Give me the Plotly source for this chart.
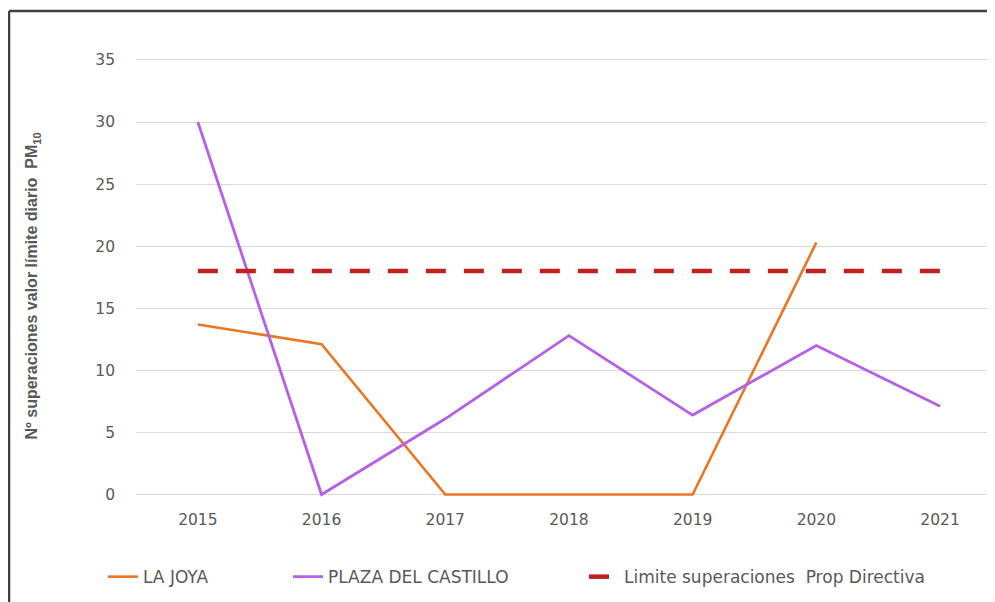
import plotly.graph_objects as go

years = [2015, 2016, 2017, 2018, 2019, 2020, 2021]
la_joya_years = [2015, 2016, 2017, 2018, 2019, 2020]
la_joya = [13.7, 12.1, 0, 0, 0, 20.3]
plaza = [30, 0, 6.1, 12.8, 6.4, 12.0, 7.1]
limite = [18, 18, 18, 18, 18, 18, 18]
y_ticks = [0, 5, 10, 15, 20, 25, 30, 35]

TXT = "#595959"
OFF = 8  # page body margin
W, H = 995 - OFF, 602 - OFF
PL, PT, PB = 136 - OFF, 40 - OFF, 503 - OFF   # plot area in figure px
Y0 = 497 - OFF   # pixel of value 0
SY = 12.48       # px per unit
SX = 123.7       # px per year

def fx(ref_px):
    return (ref_px - OFF) / W

def fy(ref_px):
    return (H - (ref_px - OFF)) / H

fig = go.Figure()
fig.add_trace(go.Scatter(x=la_joya_years, y=la_joya, mode="lines", name="LA JOYA",
                         line=dict(color="#EB7523", width=2.6), legend="legend"))
fig.add_trace(go.Scatter(x=years, y=plaza, mode="lines", name="PLAZA DEL CASTILLO",
                         line=dict(color="#B660E8", width=2.8), legend="legend2"))
fig.add_trace(go.Scatter(x=years, y=limite, mode="lines", name="Limite superaciones  Prop Directiva",
                         line=dict(color="#C0201E", width=4.5, dash="20px,18px"), legend="legend3"))

leg_common = dict(orientation="h", yanchor="middle", xanchor="left",
                  xref="paper", yref="paper",
                  font=dict(family="DejaVu Sans", size=17, color=TXT),
                  bgcolor="rgba(0,0,0,0)")
ly = fy(580)

fig.update_layout(
    width=W, height=H,
    margin=dict(l=0, r=0, t=0, b=0),
    paper_bgcolor="white", plot_bgcolor="white",
    showlegend=True,
    legend=dict(x=fx(103), y=ly, **leg_common),
    legend2=dict(x=fx(288), y=ly, **leg_common),
    legend3=dict(x=fx(584), y=ly, **leg_common),
    xaxis=dict(domain=[PL / W, 1], range=[2014.5, 2014.5 + (W - PL) / SX],
               tickmode="array", tickvals=years,
               ticktext=[str(y) for y in years], showgrid=False, zeroline=False,
               showline=False, ticks="", ticklabelstandoff=8,
               tickfont=dict(family="DejaVu Sans", size=15.5, color=TXT)),
    yaxis=dict(domain=[(H - PB) / H, (H - PT) / H],
               range=[-(PB - Y0) / SY, (Y0 - PT) / SY], tickmode="array", tickvals=y_ticks,
               showgrid=True, gridcolor="#D9D9D9", gridwidth=1.3, zeroline=False,
               showline=False, ticks="", ticklabelstandoff=20,
               tickfont=dict(family="DejaVu Sans", size=15.5, color=TXT)),
    annotations=[dict(text="Nº superaciones valor límite diario  PM<sub>10</sub>",
                      xref="paper", yref="paper", x=fx(33), y=fy(288),
                      xanchor="center", yanchor="middle", textangle=-90, showarrow=False,
                      font=dict(family="Liberation Sans Narrow, Liberation Sans", size=16,
                                color=TXT, weight="bold"))],
    shapes=[
        dict(type="line", xref="paper", yref="paper", x0=fx(9), x1=1.01,
             y0=fy(11), y1=fy(11), line=dict(color="#404040", width=2.5)),
        dict(type="line", xref="paper", yref="paper", x0=fx(9), x1=fx(9),
             y0=fy(11), y1=-0.02, line=dict(color="#404040", width=2.5)),
    ],
)

fig.write_html("out.html")
